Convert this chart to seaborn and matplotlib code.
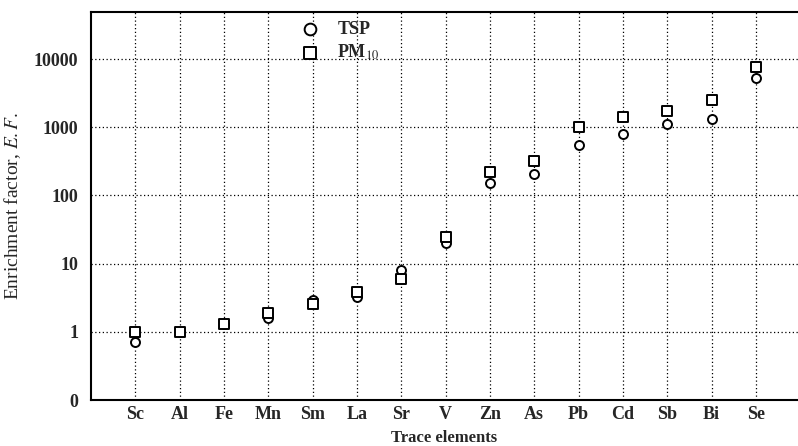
"""Enrichment factors of trace elements in TSP and PM10 (log scale)."""
import matplotlib
matplotlib.use("Agg")
import matplotlib.pyplot as plt
import numpy as np
import pandas as pd
import seaborn as sns

elements = ["Sc", "Al", "Fe", "Mn", "Sm", "La", "Sr", "V", "Zn", "As",
            "Pb", "Cd", "Sb", "Bi", "Se"]
tsp = [0.71, 1.0, 1.3, 1.58, 2.95, 3.3, 8.1, 20, 155, 209,
       550, 790, 1100, 1340, 5300]
pm10 = [1.0, 1.0, 1.3, 1.88, 2.58, 3.78, 6.0, 25, 218, 316,
        1000, 1420, 1740, 2500, 7700]
ytick_vals = [0.1, 1, 10, 100, 1000, 10000]
ytick_labels = ["0", "1", "10", "100", "1000", "10000"]

df = pd.DataFrame({"element": elements * 2,
                   "ef": tsp + pm10,
                   "fraction": ["TSP"] * len(tsp) + ["PM10"] * len(pm10)})
df["pos"] = df["element"].map({e: i for i, e in enumerate(elements)})

sns.set_style("white")
plt.rcParams["font.family"] = ["Liberation Serif", "DejaVu Serif"]
plt.rcParams["mathtext.fontset"] = "stix"

fig = plt.figure(figsize=(7.98, 4.46), dpi=100)
ax = fig.add_axes([0.114, 0.103, 0.886, 0.870])

sns.scatterplot(data=df[df["fraction"] == "TSP"], x="pos", y="ef", marker="o",
                s=42, color="white", edgecolor="black", linewidth=1.4,
                label="TSP", ax=ax, zorder=3)
sns.scatterplot(data=df[df["fraction"] == "PM10"], x="pos", y="ef", marker="s",
                s=42, color="white", edgecolor="black", linewidth=1.4,
                label="PM$_{10}$", ax=ax, zorder=4)

ax.set_yscale("log")
ax.set_ylim(0.1, 49000)
ax.set_xlim(-1, 14.95)
ax.set_yticks(ytick_vals)
ax.set_yticklabels(ytick_labels)
ax.yaxis.set_minor_locator(matplotlib.ticker.NullLocator())
ax.set_xticks(np.arange(len(elements)))
ax.set_xticklabels(elements)
ax.tick_params(length=0, labelsize=13)
ax.tick_params(axis="x", pad=4)
ax.tick_params(axis="y", pad=9)
for lab in ax.get_xticklabels() + ax.get_yticklabels():
    lab.set_fontweight("bold")

ax.grid(True, color="black", linestyle=(0, (1, 2)), linewidth=0.9)
for side in ["left", "bottom", "top"]:
    ax.spines[side].set_linewidth(1.5)
    ax.spines[side].set_color("black")
ax.spines["right"].set_visible(False)

ax.set_xlabel("Trace elements", fontsize=12, fontweight="bold", labelpad=5)
ax.set_ylabel("Enrichment factor, $E.F.$", fontsize=14, labelpad=8)

leg = ax.legend(loc="upper left", bbox_to_anchor=(0.272, 1.0), frameon=False,
                fontsize=13, handletextpad=0.5, labelspacing=0.25,
                borderaxespad=0.1, markerscale=1.3)
for t in leg.get_texts():
    t.set_fontweight("bold")

plt.savefig("out.png", dpi=100)
plt.close()
